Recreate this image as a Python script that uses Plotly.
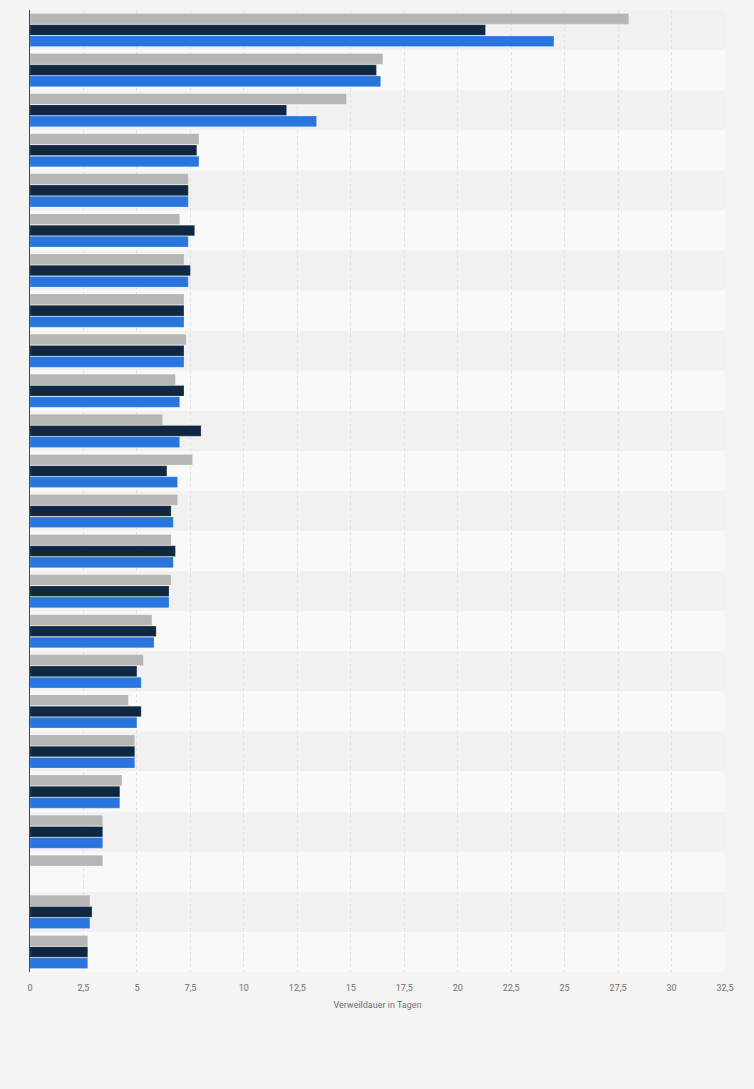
import plotly.graph_objects as go

# Daten (Reihenfolge von oben nach unten)
kategorien = [f"Kategorie {i}" for i in range(1, 25)]

reihe_grau = [28.0, 16.5, 14.8, 7.9, 7.4, 7.0, 7.2, 7.2, 7.3, 6.8, 6.2, 7.6,
              6.9, 6.6, 6.6, 5.7, 5.3, 4.6, 4.9, 4.3, 3.4, 3.4, 2.8, 2.7]
reihe_dunkel = [21.3, 16.2, 12.0, 7.8, 7.4, 7.7, 7.5, 7.2, 7.2, 7.2, 8.0, 6.4,
                6.6, 6.8, 6.5, 5.9, 5.0, 5.2, 4.9, 4.2, 3.4, None, 2.9, 2.7]
reihe_blau = [24.5, 16.4, 13.4, 7.9, 7.4, 7.4, 7.4, 7.2, 7.2, 7.0, 7.0, 6.9,
              6.7, 6.7, 6.5, 5.8, 5.2, 5.0, 4.9, 4.2, 3.4, None, 2.8, 2.7]

reihen = [
    ("Reihe 1", reihe_grau, "#b5b5b5"),
    ("Reihe 2", reihe_dunkel, "#0f2740"),
    ("Reihe 3", reihe_blau, "#2876dd"),
]

fig = go.Figure()

for name, werte, farbe in reihen:
    fig.add_trace(go.Bar(
        y=kategorien, x=werte, name=name, orientation="h",
        marker=dict(color=farbe, line=dict(color="rgba(255,255,255,0.35)", width=0.6)),
        hovertemplate="%{x}<extra>" + name + "</extra>",
    ))

# abwechselnde Zeilenstreifen
for i in range(len(kategorien)):
    fig.add_shape(
        type="rect", xref="paper", yref="y", layer="below",
        x0=0, x1=1, y0=i - 0.5, y1=i + 0.5,
        fillcolor="#f1f1f1" if i % 2 == 0 else "#f9f9f9",
        line=dict(width=0),
    )

fig.update_layout(
    width=754, height=1089,
    margin=dict(l=30, r=29, t=10, b=117),
    paper_bgcolor="#f4f4f4",
    plot_bgcolor="#f8f8f8",
    barmode="group",
    bargap=0.16,
    bargroupgap=0.05,
    showlegend=False,
    separators=",.",
    font=dict(family="Roboto", size=9, color="#666666"),
    xaxis=dict(
        range=[0, 32.5], dtick=2.5, tick0=0,
        showgrid=True, gridcolor="#e0e0e0", griddash="dot", gridwidth=1,
        zeroline=False, ticks="", ticklen=0, ticklabelstandoff=9,
        tickfont=dict(size=9, color="#707070"),
        title=dict(text="Verweildauer in Tagen", font=dict(size=9, color="#707070"), standoff=9),
    ),
    yaxis=dict(
        autorange="reversed", showticklabels=False, showgrid=False,
        showline=True, linecolor="#444444", linewidth=1, ticks="",
    ),
)

fig.write_html("out.html", config={"displayModeBar": False},
               post_script="document.body.style.margin='0';")
